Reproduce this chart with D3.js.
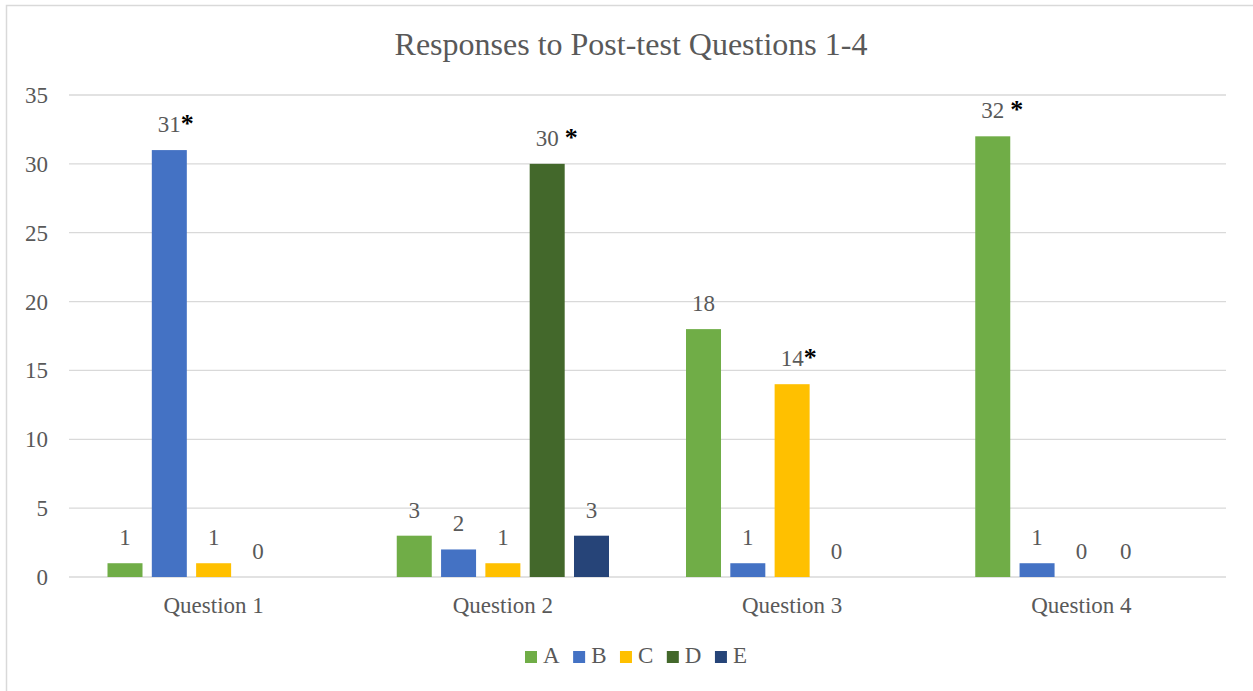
<!DOCTYPE html>
<html>
<head>
<meta charset="utf-8">
<script src="https://cdn.jsdelivr.net/npm/d3@7"></script>
<style>
  body { margin: 0; background: #fff; }
  text { font-family: "Liberation Serif", "Times New Roman", serif; }
</style>
</head>
<body>
<div id="chart"></div>
<script>
const questions = ['Question 1', 'Question 2', 'Question 3', 'Question 4'];
const answers = ['A', 'B', 'C', 'D', 'E'];
// counts per answer, one value per question (null = no bar, no label)
const countA = [1, 3, 18, 32];
const countB = [31, 2, 1, 1];
const countC = [1, 1, 14, 0];
const countD = [0, 30, 0, 0];
const countE = [null, 3, null, null];
// correct answer marker per question
const correct = [
  { q: 'Question 1', a: 'B', mark: '*' },
  { q: 'Question 2', a: 'D', mark: ' *' },
  { q: 'Question 3', a: 'C', mark: '*' },
  { q: 'Question 4', a: 'A', mark: ' *' }
];
const yTicks = [0, 5, 10, 15, 20, 25, 30, 35];
const colors = ['#70AD47', '#4472C4', '#FFC000', '#43682B', '#264478'];

const counts = [countA, countB, countC, countD, countE];
const rows = [];
questions.forEach((q, i) => {
  answers.forEach((a, j) => {
    rows.push({ q, a, value: counts[j][i] });
  });
});

const dims = { width: 1253, height: 691 };
const margins = { left: 69, right: 27, top: 95, bottom: 114 };
const textColor = '#595959';

const svg = d3.select('#chart')
  .append('svg')
  .attr('width', dims.width)
  .attr('height', dims.height);

// chart border
svg.append('rect')
  .attr('x', 6.5).attr('y', 5.5)
  .attr('width', 1260).attr('height', 700)
  .attr('fill', 'none')
  .attr('stroke', '#d9d9d9')
  .attr('stroke-width', 1.5);

const x0 = d3.scaleBand()
  .domain(questions)
  .range([margins.left, dims.width - margins.right]);

const x1 = d3.scaleBand()
  .domain(answers)
  .range([38.5, x0.bandwidth() - 38.5])
  .paddingInner(0.21);

const y = d3.scaleLinear()
  .domain([0, 35])
  .range([dims.height - margins.bottom, margins.top]);

const color = d3.scaleOrdinal().domain(answers).range(colors);

// gridlines
svg.append('g')
  .selectAll('line')
  .data(yTicks)
  .join('line')
    .attr('x1', margins.left)
    .attr('x2', dims.width - margins.right)
    .attr('y1', d => y(d))
    .attr('y2', d => y(d))
    .attr('stroke', '#d9d9d9')
    .attr('stroke-width', 1.3);

// y axis labels
svg.append('g')
  .selectAll('text')
  .data(yTicks)
  .join('text')
    .attr('x', 48)
    .attr('y', d => y(d))
    .attr('dy', '0.35em')
    .attr('text-anchor', 'end')
    .attr('font-size', 23)
    .attr('fill', textColor)
    .text(d => d);

// x axis labels
svg.append('g')
  .selectAll('text')
  .data(questions)
  .join('text')
    .attr('x', d => x0(d) + x0.bandwidth() / 2)
    .attr('y', 613)
    .attr('text-anchor', 'middle')
    .attr('font-size', 23)
    .attr('fill', textColor)
    .text(d => d);

// bars
const bars = rows.filter(d => d.value !== null);
svg.append('g')
  .selectAll('rect')
  .data(bars)
  .join('rect')
    .attr('x', d => x0(d.q) + x1(d.a))
    .attr('y', d => y(d.value))
    .attr('width', x1.bandwidth())
    .attr('height', d => y(0) - y(d.value))
    .attr('fill', d => color(d.a));

// data labels
const labels = svg.append('g')
  .selectAll('text')
  .data(bars)
  .join('text')
    .attr('x', d => x0(d.q) + x1(d.a) + x1.bandwidth() / 2)
    .attr('y', d => y(d.value) - 18)
    .attr('text-anchor', 'middle')
    .attr('font-size', 23)
    .attr('fill', textColor)
    .text(d => d.value);

// asterisks for the correct answers
labels.each(function (d) {
  const c = correct.find(k => k.q === d.q && k.a === d.a);
  if (!c) return;
  const w = this.getComputedTextLength();
  const cx = x0(d.q) + x1(d.a) + x1.bandwidth() / 2;
  svg.append('text')
    .attr('x', cx + w / 2 + (c.mark.startsWith(' ') ? 6 : 0))
    .attr('y', y(d.value) - 18)
    .attr('font-size', 26)
    .attr('font-weight', 'bold')
    .attr('fill', '#000')
    .text('*');
});

// title
svg.append('text')
  .attr('x', 631)
  .attr('y', 55)
  .attr('text-anchor', 'middle')
  .attr('font-size', 32)
  .attr('fill', textColor)
  .text('Responses to Post-test Questions 1-4');

// legend
const legend = svg.append('g');
const items = legend.selectAll('g')
  .data(answers)
  .join('g');
items.append('rect')
  .attr('width', 12).attr('height', 12)
  .attr('y', 651)
  .attr('fill', d => color(d));
items.append('text')
  .attr('x', 18)
  .attr('y', 663)
  .attr('font-size', 23)
  .attr('fill', textColor)
  .text(d => d);
let lx = 0;
items.each(function () {
  d3.select(this).attr('transform', `translate(${lx},0)`);
  const tw = d3.select(this).select('text').node().getComputedTextLength();
  lx += 18 + tw + 13.5;
});
const total = lx - 13.5;
legend.attr('transform', `translate(${636 - total / 2},0)`);
</script>
</body>
</html>
